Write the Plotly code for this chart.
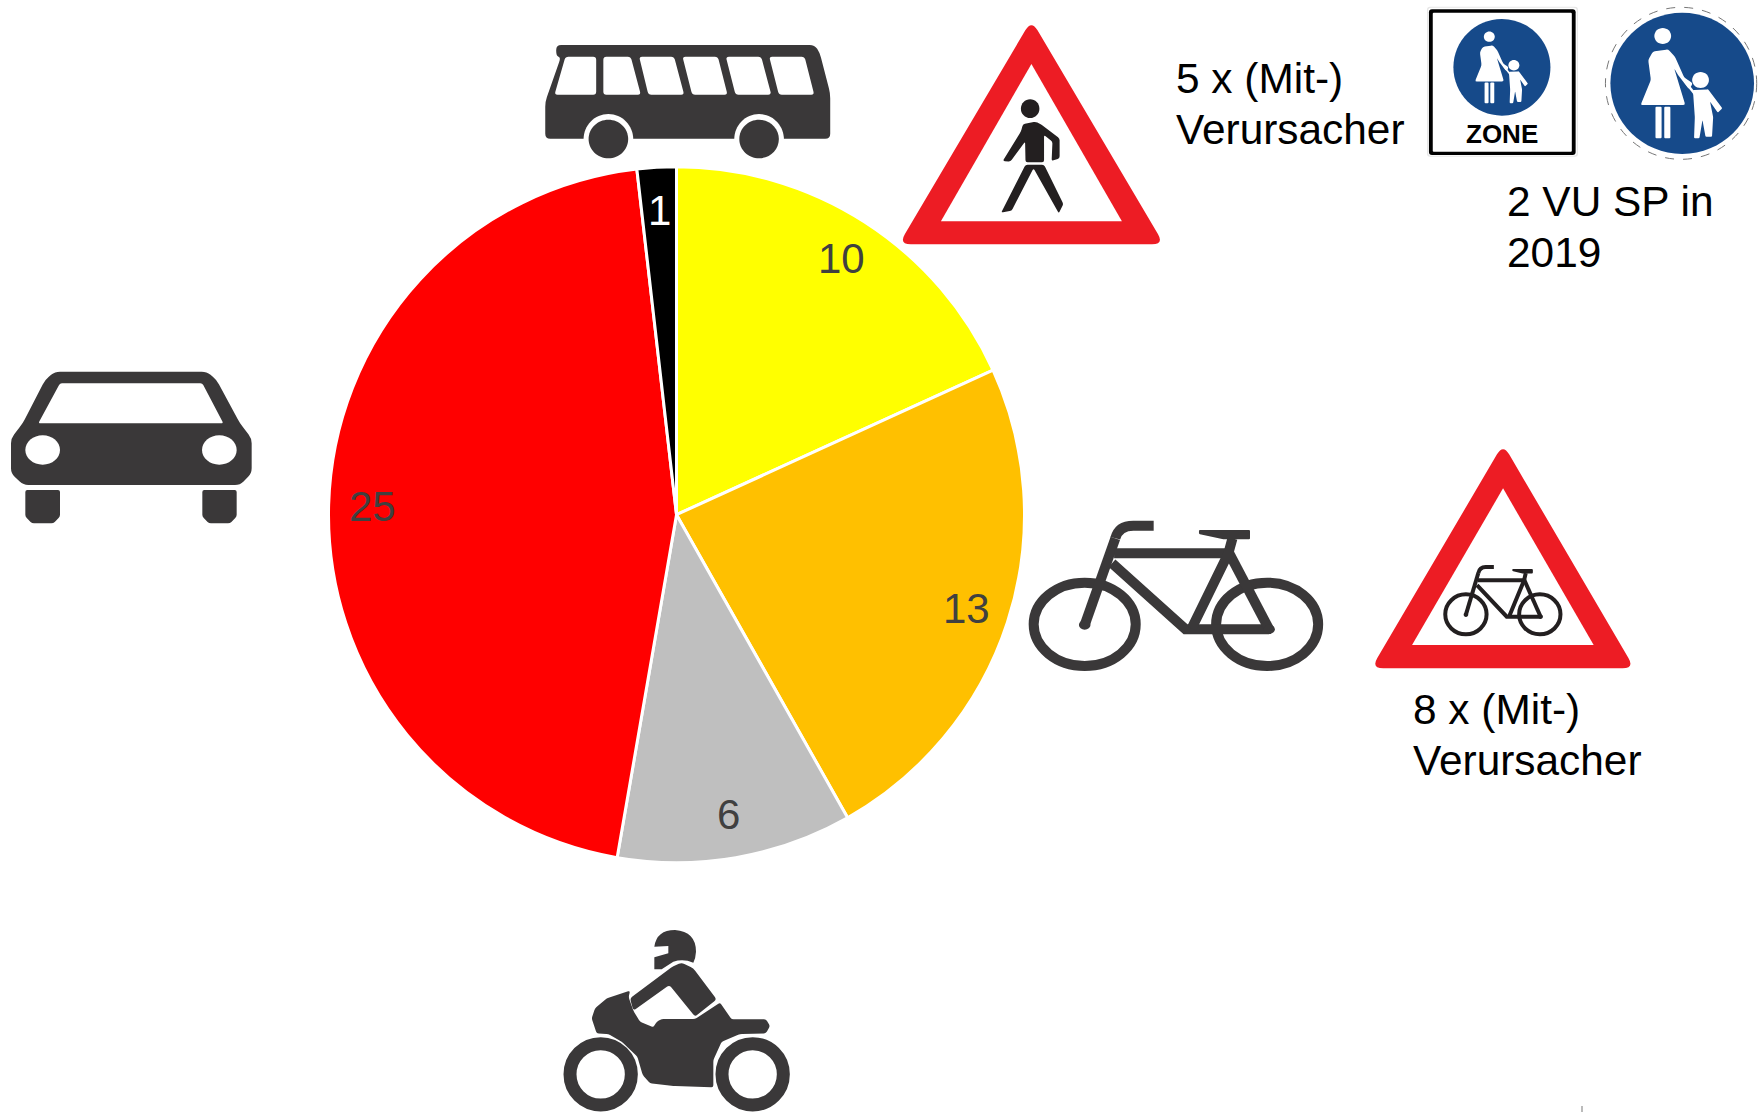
import math
import plotly.graph_objects as go

W, H = 1759, 1112
categories = ["Fußgänger", "Radfahrer", "Motorrad", "Pkw", "Bus"]
values = [10, 13, 6, 25, 1]
slice_colors = ["#FFFF00", "#FFC000", "#BFBFBF", "#FF0000", "#000000"]
label_colors = ["#404040", "#404040", "#404040", "#404040", "#FFFFFF"]

PIE_CX, PIE_CY, PIE_R = 676.5, 514.7, 348
DARK, INK, RED, BLUE = "#3A3839", "#231F20", "#ED1C24", "#164A8A"
shapes = []


def px(x, y):
    return f"{x / W:.6f},{1 - y / H:.6f}"


def zoom_map(ox, oy, sx=1 / 3, sy=1 / 3):
    return lambda x, y: (ox + x * sx, oy + y * sy)


def add_path(d, fill=None, line=None, width=0, dash=None):
    ln = dict(width=width, color=line or "rgba(0,0,0,0)")
    if dash:
        ln["dash"] = dash
    shapes.append(dict(type="path", xref="paper", yref="paper", path=d,
                       fillcolor=fill or "rgba(0,0,0,0)", line=ln, layer="above"))


def rpoly(f, pts, r=0, fill=DARK):
    P = [f(*p) for p in pts]
    n = len(P)
    d = ""
    for i in range(n):
        a, b, c = P[i - 1], P[i], P[(i + 1) % n]
        la = math.dist(a, b) or 1
        lc = math.dist(c, b) or 1
        ra, rc = min(r, la / 2), min(r, lc / 2)
        p1 = (b[0] + (a[0] - b[0]) * ra / la, b[1] + (a[1] - b[1]) * ra / la)
        p2 = (b[0] + (c[0] - b[0]) * rc / lc, b[1] + (c[1] - b[1]) * rc / lc)
        d += ("M" if i == 0 else "L") + px(*p1) + " Q" + px(*b) + " " + px(*p2) + " "
    add_path(d + "Z", fill=fill)


def ellipse(f, cx, cy, rx, ry=None, fill=DARK, line=None, width=0, dash=None):
    ry = rx if ry is None else ry
    k = 0.5523
    C = lambda a, b: px(*f(cx + a * rx, cy + b * ry))
    d = (f"M{C(1, 0)} C{C(1, k)} {C(k, 1)} {C(0, 1)} C{C(-k, 1)} {C(-1, k)} {C(-1, 0)} "
         f"C{C(-1, -k)} {C(-k, -1)} {C(0, -1)} C{C(k, -1)} {C(1, -k)} {C(1, 0)} Z")
    add_path(d, fill=fill, line=line, width=width, dash=dash)


def stroke(f, pts, width, color=DARK):
    d = "M" + " L".join(px(*f(*p)) for p in pts)
    add_path(d, line=color, width=width)


# Bus
f = zoom_map(520, 0, 660 / 1568)
rpoly(f, [(86, 135), (700, 135), (712, 158), (737, 280), (737, 416), (60, 416), (60, 305), (97, 172), (86, 168)], 5)
for w in [[(108, 170), (181, 170), (181, 284), (82, 284)], [(198, 170), (263, 170), (287, 284), (198, 284)],
          [(283, 170), (366, 170), (390, 284), (305, 284)], [(386, 170), (470, 170), (493, 284), (409, 284)],
          [(489, 170), (573, 170), (597, 284), (512, 284)], [(592, 170), (676, 170), (699, 284), (615, 284)]]:
    rpoly(f, w, 3, "#FFFFFF")
for cx in (210, 568):
    ellipse(f, cx, 418, 59, 76, "#FFFFFF")
    ellipse(f, cx, 417, 47, 58)


# Warning triangles
def triangle(f, outer, inner):
    rpoly(f, outer, 12, RED)
    rpoly(f, inner, 0, "#FFFFFF")


triangle(f, [(1215, 60), (1530, 733), (900, 733)], [(1215, 192), (1430, 664), (1000, 664)])
ellipse(f, 1212, 326, 22, 28, INK)
rpoly(f, [(1195, 372), (1225, 365), (1240, 375), (1282, 415), (1282, 475), (1263, 483), (1265, 425), (1245, 405),
          (1245, 487), (1201, 487), (1200, 425), (1165, 485), (1147, 483), (1190, 395)], 2, INK)
rpoly(f, [(1201, 494), (1245, 494), (1291, 612), (1280, 640), (1220, 505), (1168, 632), (1143, 638)], 2, INK)


# Mother and child pictogram
def figure(f, col="#FFFFFF", arm=2.5):
    ellipse(f, 1316, 108, 22, 24, col)
    rpoly(f, [(1290, 155), (1330, 148), (1348, 170), (1372, 232), (1395, 250), (1385, 268), (1356, 225), (1346, 205),
              (1375, 315), (1258, 315), (1285, 240), (1278, 180)], 2, col)
    rpoly(f, [(1297, 320), (1313, 320), (1313, 415), (1297, 415)], 1, col)
    rpoly(f, [(1320, 320), (1336, 320), (1336, 415), (1320, 415)], 1, col)
    stroke(f, [(1375, 245), (1402, 285)], arm, col)
    ellipse(f, 1415, 240, 22, 24, col)
    rpoly(f, [(1395, 270), (1435, 268), (1472, 325), (1460, 338), (1440, 305), (1448, 352), (1445, 410), (1428, 410),
              (1420, 360), (1412, 415), (1398, 415), (1400, 352)], 1, col)


f = zoom_map(1160, 0, 599 / 1568)
rpoly(f, [(699, 20), (1094, 20), (1094, 470), (699, 470)], 3, "#E6E6E6")
rpoly(f, [(702, 23), (1091, 23), (1091, 467), (702, 467)], 3, "#FFFFFF")
rpoly(f, [(704, 28), (1088, 28), (1088, 465), (704, 465)], 3, "#000000")
rpoly(f, [(714, 38), (1078, 38), (1078, 455), (714, 455)], 1, "#FFFFFF")
ellipse(f, 895, 202, 127, 145, BLUE)
s = 0.65
figure(lambda x, y: f(862 + (x - 1316) * s, 110 + (y - 108) * s), arm=1.6)
ellipse(f, 1364, 250, 198, 228, "#FFFFFF", "#777777", 1, "dash")
ellipse(f, 1367, 250, 188, 212, BLUE)
figure(f)


# Bicycle pictogram
def bike(f, w, col):
    for cx in (183, 630):
        ellipse(f, cx, 553, 125, 125, None, col, w)
    stroke(f, [(183, 555), (258, 295)], w, col)
    add_path("M" + px(*f(258, 295)) + " Q" + px(*f(266, 257)) + " " + px(*f(302, 257)) + " L" + px(*f(352, 257)),
             line=col, width=w)
    stroke(f, [(255, 340), (535, 340)], w, col)
    stroke(f, [(250, 370), (430, 568), (635, 568)], w, col)
    stroke(f, [(635, 568), (535, 335)], w, col)
    stroke(f, [(445, 565), (535, 340), (545, 295)], w, col)
    rpoly(f, [(463, 270), (588, 270), (588, 298), (525, 298), (463, 282)], 1, col)
    ellipse(f, 183, 555, 14, 14, col)
    ellipse(f, 635, 568, 14, 14, col)


f = zoom_map(1010, 440, 640 / 1568)
bike(f, 10, DARK)
triangle(f, [(1208, 12), (1530, 685), (885, 685)], [(1208, 145), (1430, 615), (985, 615)])
sx, sy = 0.405, 0.48
bike(lambda x, y: f(1117 + (x - 183) * sx, 523 + (y - 553) * sy), 4, INK)

# Car
f = zoom_map(0, 360)
rpoly(f, [(135, 60), (165, 35), (620, 35), (650, 60), (720, 190), (755, 235), (755, 340), (720, 375), (70, 375),
          (33, 340), (33, 235), (68, 190)], 5)
rpoly(f, [(180, 70), (607, 70), (670, 190), (115, 190)], 2, "#FFFFFF")
ellipse(f, 128, 270, 52, 44, "#FFFFFF")
ellipse(f, 658, 270, 52, 44, "#FFFFFF")
rpoly(f, [(76, 390), (180, 390), (180, 470), (160, 490), (96, 490), (76, 470)], 2)
rpoly(f, [(607, 390), (710, 390), (710, 470), (690, 490), (627, 490), (607, 470)], 2)

# Motorcycle
f = zoom_map(550, 920)
for cx in (152, 608):
    ellipse(f, cx, 463, 92, 92, None, DARK, 13)
add_path("M" + " ".join(
    ["" + px(*f(313, 80)), "Q" + px(*f(320, 30)) + " " + px(*f(375, 30)), "Q" + px(*f(438, 35)) + " " + px(*f(438, 95)),
     "Q" + px(*f(437, 115)) + " " + px(*f(430, 128)), "Q" + px(*f(400, 115)) + " " + px(*f(370, 125)),
     "L" + px(*f(335, 148)), "L" + px(*f(313, 148)), "L" + px(*f(313, 112)), "L" + px(*f(355, 100)),
     "L" + px(*f(355, 78)), "Z"]), fill=DARK)
rpoly(f, [(240, 235), (370, 138), (395, 128), (430, 145), (500, 238), (435, 290), (358, 195), (250, 272)], 3)
rpoly(f, [(510, 248), (545, 298), (648, 298), (660, 318), (648, 340), (570, 342), (515, 365), (490, 420), (490, 502),
          (370, 498), (300, 490), (278, 465), (262, 410), (215, 365), (175, 342), (140, 340), (125, 295), (135, 265),
          (170, 235), (240, 212), (236, 232), (250, 272), (270, 305), (310, 322), (320, 305), (335, 297), (435, 297)], 2)

# Small grey tick at the bottom edge
stroke(lambda x, y: (x, y), [(1582, 1106), (1582, 1112)], 2, "#BBBBBB")

annotations = []


def text(x, baseline, s, size=42.4, color="#000000", anchor="left", family="Liberation Sans", bold=False):
    annotations.append(dict(xref="paper", yref="paper", x=x / W, y=1 - (baseline - 0.3465 * size) / H,
                            text=f"<b>{s}</b>" if bold else s, showarrow=False, xanchor=anchor, yanchor="middle",
                            font=dict(family=family, size=size, color=color)))


text(1174, 93, "5 x (Mit-)")
text(1174, 144, "Verursacher")
text(1505, 216.5, "2 VU SP in")
text(1505, 267, "2019")
text(1411, 724, "8 x (Mit-)")
text(1411, 775, "Verursacher")
text(1160 + 895 * 599 / 1568, 143, "ZONE", size=26, anchor="center", bold=True)

total = sum(values)
cum = 0
for v, c in zip(values, label_colors):
    th = 2 * math.pi * (cum + v / 2) / total
    cum += v
    lx = PIE_CX + 0.875 * PIE_R * math.sin(th)
    ly = PIE_CY - 0.875 * PIE_R * math.cos(th)
    annotations.append(dict(xref="paper", yref="paper", x=lx / W, y=1 - ly / H, text=str(v), showarrow=False,
                            xanchor="center", yanchor="middle",
                            font=dict(family="Liberation Sans", size=42, color=c)))

fig = go.Figure(go.Pie(
    labels=categories, values=values, sort=False, direction="clockwise", rotation=0,
    marker=dict(colors=slice_colors, line=dict(color="#FFFFFF", width=3)),
    textinfo="none", showlegend=False, hoverinfo="label+value",
    domain=dict(x=[(PIE_CX - PIE_R) / W, (PIE_CX + PIE_R) / W],
                y=[1 - (PIE_CY + PIE_R) / H, 1 - (PIE_CY - PIE_R) / H]),
))
fig.update_layout(width=W, height=H, margin=dict(l=0, r=0, t=0, b=0), paper_bgcolor="#FFFFFF",
                  shapes=shapes, annotations=annotations, showlegend=False)
fig.write_html("out.html", config=dict(displayModeBar=False),
               post_script="document.body.style.margin='0';document.body.style.overflow='hidden';")
